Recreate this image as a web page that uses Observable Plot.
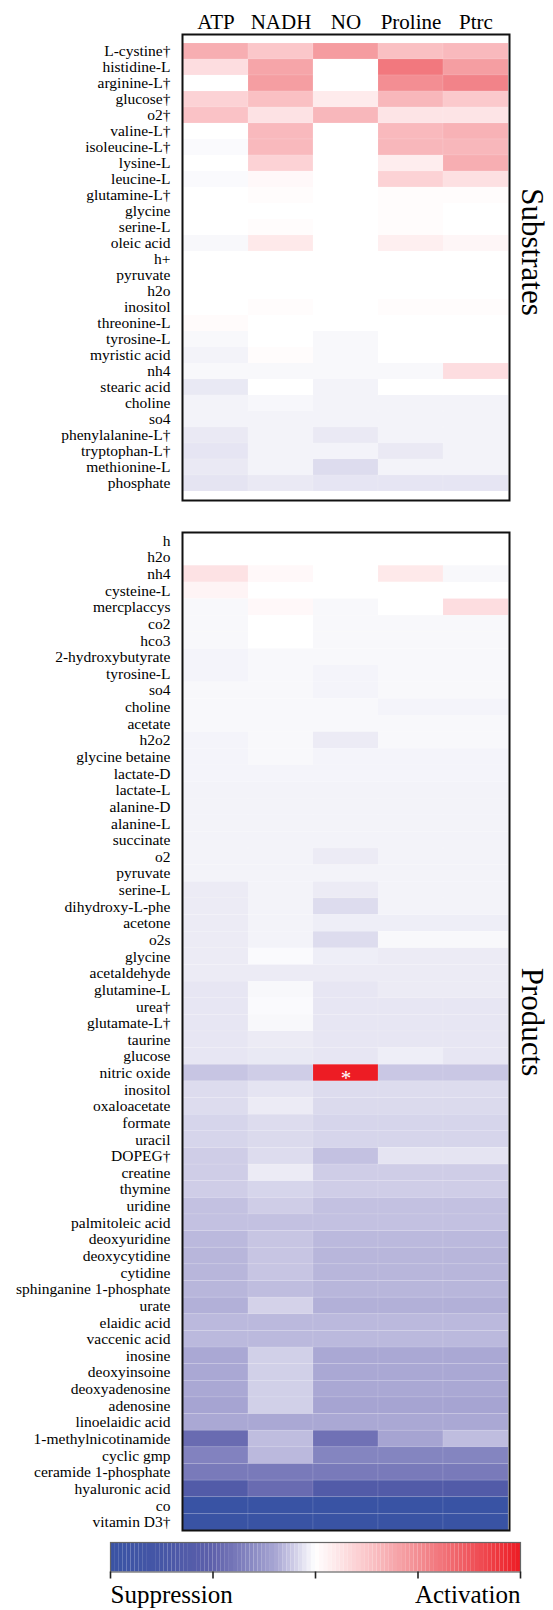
<!DOCTYPE html>
<html><head><meta charset="utf-8">
<script src="https://cdn.jsdelivr.net/npm/d3@7"></script>
<script src="https://cdn.jsdelivr.net/npm/@observablehq/plot@0.6"></script>
<style>
body{margin:0;background:#fff;}
#wrap{position:relative;width:553px;height:1610px;background:#fff;font-family:'Liberation Serif', serif;}
#wrap > div{position:absolute;left:0;}
</style></head><body>
<div id="wrap"><div id="sub" style="top:0"></div><div id="prod" style="top:510px"></div><div id="leg" style="top:1534px"></div></div>
<script>
const columns = ["ATP", "NADH", "NO", "Proline", "Ptrc"];

const substrates = ["L-cystine†","histidine-L","arginine-L†","glucose†","o2†","valine-L†","isoleucine-L†","lysine-L","leucine-L","glutamine-L†","glycine","serine-L","oleic acid","h+","pyruvate","h2o","inositol","threonine-L","tyrosine-L","myristic acid","nh4","stearic acid","choline","so4","phenylalanine-L†","tryptophan-L†","methionine-L","phosphate"];

const substratesATP = [0.36,0.15,0,0.2,0.27,0,-0.01,0,-0.01,0,0,0,-0.015,0,0,0,0,0.02,-0.015,-0.025,-0.015,-0.045,-0.025,-0.025,-0.044,-0.052,-0.044,-0.055];
const substratesNADH = [0.25,0.4,0.43,0.28,0.13,0.31,0.31,0.2,0.03,0.015,0,0.015,0.1,0,0,0,0.015,0,0,0.015,-0.015,0,-0.017,-0.025,-0.025,-0.025,-0.025,-0.044];
const substratesNO = [0.44,0,0,0.09,0.32,0,0,0,0,0,0,0,0,0,0,0,0,0,-0.015,-0.015,-0.015,-0.025,-0.025,-0.025,-0.044,-0.025,-0.07,-0.052];
const substratesProline = [0.28,0.6,0.5,0.32,0.12,0.31,0.32,0.08,0.2,0.015,0.015,0.015,0.07,0,0,0,0.015,0,0,0,-0.015,0,-0.025,-0.025,-0.025,-0.044,-0.025,-0.052];
const substratesPtrc = [0.31,0.43,0.55,0.24,0.12,0.34,0.32,0.36,0.14,0.015,0,0,0.04,0,0,0,0.015,0,0,0,0.15,0,-0.025,-0.025,-0.025,-0.025,-0.025,-0.052];

const products = ["h","h2o","nh4","cysteine-L","mercplaccys","co2","hco3","2-hydroxybutyrate","tyrosine-L","so4","choline","acetate","h2o2","glycine betaine","lactate-D","lactate-L","alanine-D","alanine-L","succinate","o2","pyruvate","serine-L","dihydroxy-L-phe","acetone","o2s","glycine","acetaldehyde","glutamine-L","urea†","glutamate-L†","taurine","glucose","nitric oxide","inositol","oxaloacetate","formate","uracil","DOPEG†","creatine","thymine","uridine","palmitoleic acid","deoxyuridine","deoxycytidine","cytidine","sphinganine 1-phosphate","urate","elaidic acid","vaccenic acid","inosine","deoxyinsoine","deoxyadenosine","adenosine","linoelaidic acid","1-methylnicotinamide","cyclic gmp","ceramide 1-phosphate","hyaluronic acid","co","vitamin D3†"];

const productsATP = [0,0,0.13,0.05,-0.015,-0.015,-0.015,-0.022,-0.022,-0.015,
  -0.015,-0.015,-0.022,-0.022,-0.022,-0.025,-0.025,-0.025,-0.025,-0.025,
  -0.025,-0.04,-0.04,-0.04,-0.04,-0.04,-0.04,-0.05,-0.05,-0.05,
  -0.05,-0.05,-0.12,-0.07,-0.07,-0.085,-0.085,-0.1,-0.1,-0.1,
  -0.13,-0.13,-0.15,-0.155,-0.155,-0.155,-0.17,-0.15,-0.15,-0.19,
  -0.19,-0.19,-0.2,-0.19,-0.45,-0.34,-0.38,-0.63,-1,-1];
const productsNADH = [0,0,0.03,0,0.03,0,0,-0.015,-0.015,-0.015,
  -0.015,-0.015,-0.015,-0.015,-0.022,-0.025,-0.025,-0.025,-0.025,-0.025,
  -0.025,-0.025,-0.025,-0.025,-0.025,-0.01,-0.04,-0.015,-0.01,-0.015,
  -0.04,-0.045,-0.1,-0.055,-0.04,-0.07,-0.075,-0.07,-0.04,-0.085,
  -0.1,-0.13,-0.12,-0.12,-0.12,-0.14,-0.09,-0.15,-0.15,-0.095,
  -0.095,-0.095,-0.095,-0.19,-0.14,-0.15,-0.38,-0.45,-1,-1];
const productsNO = [0,0,0,0,-0.015,-0.015,-0.015,-0.015,-0.022,-0.022,
  -0.015,-0.015,-0.04,-0.022,-0.022,-0.025,-0.025,-0.025,-0.025,-0.04,
  -0.025,-0.04,-0.07,-0.035,-0.07,-0.035,-0.04,-0.05,-0.05,-0.05,
  -0.05,-0.05,1,-0.07,-0.075,-0.085,-0.085,-0.13,-0.1,-0.1,
  -0.13,-0.13,-0.15,-0.155,-0.155,-0.155,-0.17,-0.15,-0.15,-0.19,
  -0.19,-0.19,-0.2,-0.19,-0.42,-0.33,-0.38,-0.63,-1,-1];
const productsProline = [0,0,0.1,0,0,-0.015,-0.015,-0.015,-0.015,-0.015,
  -0.022,-0.015,-0.015,-0.022,-0.022,-0.025,-0.025,-0.025,-0.025,-0.025,
  -0.025,-0.025,-0.025,-0.035,-0.015,-0.04,-0.04,-0.04,-0.05,-0.05,
  -0.05,-0.035,-0.115,-0.07,-0.075,-0.085,-0.085,-0.055,-0.1,-0.1,
  -0.13,-0.13,-0.15,-0.155,-0.155,-0.155,-0.17,-0.15,-0.15,-0.19,
  -0.19,-0.19,-0.2,-0.19,-0.2,-0.33,-0.38,-0.63,-1,-1];
const productsPtrc = [0,0,-0.015,0,0.15,-0.015,-0.015,-0.015,-0.015,-0.015,
  -0.022,-0.015,-0.015,-0.022,-0.022,-0.025,-0.025,-0.025,-0.025,-0.025,
  -0.025,-0.025,-0.025,-0.035,-0.015,-0.04,-0.04,-0.04,-0.05,-0.05,
  -0.05,-0.05,-0.115,-0.07,-0.075,-0.085,-0.085,-0.055,-0.1,-0.1,
  -0.13,-0.13,-0.15,-0.155,-0.155,-0.155,-0.17,-0.15,-0.15,-0.19,
  -0.19,-0.19,-0.2,-0.19,-0.14,-0.33,-0.38,-0.63,-1,-1];

const productNotes = [{row: "nitric oxide", col: "NO", mark: "*"}];

const colorStops = [-1, -0.75, -0.5, -0.3, -0.2, -0.1, 0, 0.2, 0.5, 0.8, 1];
const colorRange = ["#3953a4", "#4656a6", "#5e60ab", "#8b8bc4", "#a6a4d2", "#cfcde7", "#ffffff", "#fcd2d5", "#f38e93", "#ef4d54", "#ed1c24"];

const legendTicks = [-1, -0.5, 0, 0.5, 1];
const legendLabels = [{x: -1, label: "Suppression"}, {x: 1, label: "Activation"}];

const SERIF = "'Liberation Serif', serif";
const colorScale = {type: "linear", domain: colorStops, range: colorRange, interpolate: "rgb", clamp: true};

function serifize(svg) {
  svg.setAttribute("font-family", SERIF);
  svg.style.fontFamily = SERIF;
  svg.style.overflow = "visible";
  svg.querySelectorAll("g, text").forEach(el => {
    const sans = el.classList && el.classList.contains("note");
    el.setAttribute("font-family", sans ? "'DejaVu Sans', sans-serif" : SERIF);
    el.style.fontFamily = sans ? "'DejaVu Sans', sans-serif" : SERIF;
  });
  return svg;
}

function table(rows, cols) {
  const out = [];
  rows.forEach((r, i) => columns.forEach((c, j) => out.push({row: r, col: c, value: cols[j][i]})));
  return out;
}

function heat(rows, cols, o) {
  const data = table(rows, cols);
  return serifize(Plot.plot({
    width: 553, height: o.height,
    marginLeft: 182, marginRight: 44, marginTop: o.marginTop, marginBottom: o.marginBottom,
    x: {domain: columns, padding: 0, axis: null},
    y: {domain: rows, padding: 0, axis: null},
    color: colorScale,
    marks: [
      Plot.cell(data, {x: "col", y: "row", fill: "value", inset: 0, stroke: "white", strokeOpacity: 0.14, strokeWidth: 0.7}),
      o.notes ? Plot.text(o.notes, {x: "col", y: "row", text: "mark", fill: "white", fontSize: 21, className: "note", dy: 5}) : null,
      o.showX ? Plot.axisX({anchor: "top", tickSize: 0, tickPadding: 6, fontSize: 21, label: null}) : null,
      Plot.axisY({anchor: "left", tickSize: 0, tickPadding: 12, fontSize: 15.5, label: null}),
      Plot.frame({stroke: "#111", strokeWidth: 2}),
      Plot.text([o.title], {frameAnchor: "right", dx: 12, dy: o.titleDy, rotate: 90, fontSize: 31, lineAnchor: "bottom", textAnchor: "middle", fill: "black"})
    ]
  }));
}

document.getElementById("sub").append(heat(substrates,
  [substratesATP, substratesNADH, substratesNO, substratesProline, substratesPtrc],
  {height: 510, marginTop: 34, marginBottom: 10, showX: true, title: "Substrates", titleDy: -15.5}));

document.getElementById("prod").append(heat(products,
  [productsATP, productsNADH, productsNO, productsProline, productsPtrc],
  {height: 1024, marginTop: 22, marginBottom: 4, showX: false, title: "Products", titleDy: -9.5, notes: productNotes}));

const rampStep = 0.02;
const ramp = d3.range(-1, 1 - 1e-9, rampStep);
document.getElementById("leg").append(serifize(Plot.plot({
  width: 553, height: 76,
  marginLeft: 110, marginRight: 33, marginTop: 8, marginBottom: 38.5,
  x: {domain: [-1, 1], axis: null},
  color: colorScale,
  marks: [
    Plot.rect(ramp, {x1: d => d, x2: d => d + rampStep, fill: d => d + rampStep / 2}),
    Plot.frame({stroke: "#666", strokeWidth: 1.2}),
    Plot.axisX(legendTicks, {anchor: "bottom", tickSize: 7, tickFormat: () => "", stroke: "#222", strokeWidth: 1.6, label: null}),
    Plot.text(legendLabels.slice(0, 1), {x: "x", text: "label", frameAnchor: "bottom", textAnchor: "start", lineAnchor: "bottom", dy: 30.5, fontSize: 25}),
    Plot.text(legendLabels.slice(1), {x: "x", text: "label", frameAnchor: "bottom", textAnchor: "end", lineAnchor: "bottom", dy: 30.5, fontSize: 25})
  ]
})));
</script>
</body></html>
